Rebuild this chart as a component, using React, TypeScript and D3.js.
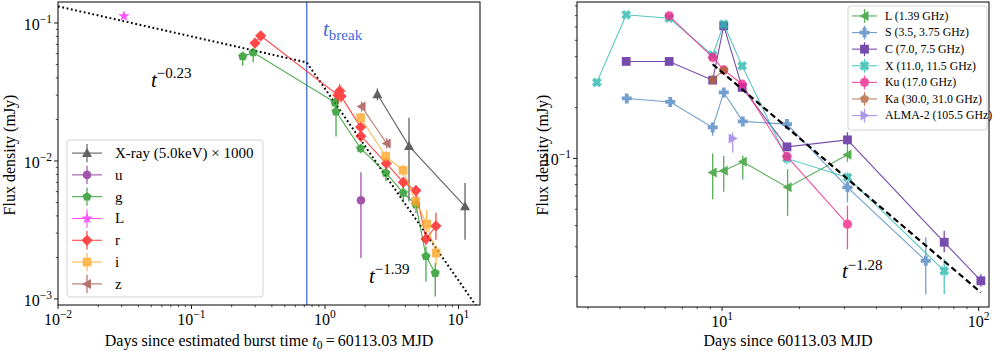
import React from 'react';
import * as d3 from 'd3';

// ---------------- Left panel data (days since t0, flux mJy) ----------------
const xrayT = [2.47, 4.26, 11.2];
const xrayF = [0.0305, 0.01282, 0.00469];
const xrayLo = [0.0275, 0.0051, 0.00269];
const xrayHi = [0.0335, 0.0206, 0.00693];

const uT = [1.86];
const uF = [0.00519];
const uLo = [0.00198];
const uHi = [0.0083];

const gT = [0.242, 0.29, 1.19, 1.21, 1.85, 2.86, 3.86, 4.8, 5.71, 6.7];
const gF = [0.0573, 0.0612, 0.0265, 0.0228, 0.01233, 0.0082, 0.00587, 0.00483, 0.00204, 0.00154];
const gLo = [0.049, 0.052, 0.0245, 0.01507, 0.0114, 0.00713, 0.005, 0.0042, 0.00134, 0.00104];
const gHi = [0.0612, 0.0647, 0.0285, 0.0255, 0.0133, 0.00897, 0.00662, 0.0055, 0.0024, 0.00182];

const LoptT = [0.0312];
const LoptF = [0.112];

const rT = [0.299, 0.33, 1.25, 1.29, 1.32, 1.85, 1.86, 2.88, 3.86, 4.8, 5.71, 6.78];
const rF = [0.0715, 0.0808, 0.03, 0.0322, 0.0295, 0.0176, 0.01514, 0.0096, 0.00701, 0.0061, 0.00272, 0.00338];
const rLo = [0.0665, 0.076, 0.026, 0.028, 0.0265, 0.016, 0.0138, 0.0087, 0.0064, 0.0055, 0.00245, 0.00269];
const rHi = [0.0765, 0.086, 0.034, 0.036, 0.0325, 0.0192, 0.0165, 0.0105, 0.0077, 0.0067, 0.003, 0.00422];

const iT = [1.85, 2.85, 3.84, 4.78, 5.78, 6.8];
const iF = [0.0206, 0.01083, 0.00857, 0.0051, 0.00349, 0.00215];
const iLo = [0.019, 0.0099, 0.0078, 0.00432, 0.003, 0.00175];
const iHi = [0.0222, 0.0118, 0.0094, 0.00555, 0.00444, 0.00245];

const zT = [1.88, 2.9];
const zF = [0.0248, 0.0134];
const zLo = [0.0228, 0.0123];
const zHi = [0.027, 0.0146];

// broken power-law fit
const fitLT = [0.01, 0.73, 14.5];
const fitLF = [0.132, 0.0518, 0.000813];
const tBreak = 0.73;

// ---------------- Right panel data (radio) ----------------
const radLT = [9.19, 10.15, 12.04, 18.0, 30.8];
const radLF = [0.0826, 0.0845, 0.0955, 0.0674, 0.105];
const radLLo = [0.0574, 0.0634, 0.075, 0.0457, 0.0955];
const radLHi = [0.107, 0.1036, 0.104, 0.0864, 0.119];

const radST = [4.25, 6.28, 9.19, 10.15, 12.04, 17.9, 30.8, 62.2];
const radSF = [0.2265, 0.216, 0.1526, 0.2458, 0.1656, 0.1596, 0.0674, 0.02478];
const radSLo = [0.212, 0.207, 0.136, 0.236, 0.156, 0.152, 0.0549, 0.0157];
const radSHi = [0.235, 0.225, 0.163, 0.255, 0.175, 0.167, 0.0737, 0.0342];

const radCT = [4.23, 6.22, 9.19, 10.15, 11.97, 17.9, 30.8, 73.4, 102];
const radCF = [0.375, 0.375, 0.2906, 0.609, 0.263, 0.117, 0.1288, 0.0319, 0.01888];
const radCLo = [0.36, 0.36, 0.28, 0.59, 0.255, 0.112, 0.119, 0.0278, 0.0174];
const radCHi = [0.39, 0.39, 0.3, 0.63, 0.27, 0.122, 0.143, 0.0373, 0.0207];

const radXT = [3.25, 4.23, 6.22, 9.19, 10.15, 11.97, 17.9, 30.8, 73.4];
const radXF = [0.282, 0.708, 0.676, 0.408, 0.623, 0.353, 0.1, 0.0772, 0.0216];
const radXLo = [0.27, 0.685, 0.655, 0.39, 0.6, 0.335, 0.092, 0.0745, 0.0157];
const radXHi = [0.295, 0.73, 0.7, 0.425, 0.65, 0.37, 0.108, 0.0826, 0.0254];

const radKuT = [6.22, 9.19, 10.15, 11.97, 17.9, 30.8];
const radKuF = [0.698, 0.396, 0.334, 0.275, 0.1027, 0.0408];
const radKuLo = [0.675, 0.38, 0.32, 0.265, 0.0975, 0.029];
const radKuHi = [0.72, 0.41, 0.345, 0.285, 0.108, 0.0525];

const radKaT = [9.19, 10.15];
const radKaF = [0.2906, 0.333];
const radKaLo = [0.282, 0.323];
const radKaHi = [0.3, 0.343];

const radAT = [11.0];
const radAF = [0.1313];
const radALo = [0.1085];
const radAHi = [0.1425];

const fitRT = [9.19, 102];
const fitRF = [0.361, 0.0161];

// ---------------- helpers ----------------
type Series = {
  label: string;
  color: string;
  marker: string;
  t: number[];
  f: number[];
  lo?: number[];
  hi?: number[];
  r: number;
};

const leftSeries: Series[] = [
  { label: 'X-ray (5.0keV) × 1000', color: '#3a3a3a', marker: '^', t: xrayT, f: xrayF, lo: xrayLo, hi: xrayHi, r: 5 },
  { label: 'u', color: '#8a2a96', marker: 'o', t: uT, f: uF, lo: uLo, hi: uHi, r: 4.3 },
  { label: 'g', color: '#1f951f', marker: 'p', t: gT, f: gF, lo: gLo, hi: gHi, r: 4.8 },
  { label: 'L', color: '#ff2cff', marker: '*', t: LoptT, f: LoptF, r: 6 },
  { label: 'r', color: '#ff1a1a', marker: 'D', t: rT, f: rF, lo: rLo, hi: rHi, r: 5.6 },
  { label: 'i', color: '#ffa726', marker: 's', t: iT, f: iF, lo: iLo, hi: iHi, r: 4.3 },
  { label: 'z', color: '#a4504c', marker: '<', t: zT, f: zF, lo: zLo, hi: zHi, r: 5 },
];

const rightSeries: Series[] = [
  { label: 'L (1.39 GHz)', color: '#2e9a2e', marker: '<', t: radLT, f: radLF, lo: radLLo, hi: radLHi, r: 5 },
  { label: 'S (3.5, 3.75 GHz)', color: '#4f88c2', marker: 'P', t: radST, f: radSF, lo: radSLo, hi: radSHi, r: 5 },
  { label: 'C (7.0, 7.5 GHz)', color: '#57209a', marker: 's', t: radCT, f: radCF, lo: radCLo, hi: radCHi, r: 4.4 },
  { label: 'X (11.0, 11.5 GHz)', color: '#2bbab0', marker: 'X', t: radXT, f: radXF, lo: radXLo, hi: radXHi, r: 5 },
  { label: 'Ku (17.0 GHz)', color: '#f2268f', marker: 'o', t: radKuT, f: radKuF, lo: radKuLo, hi: radKuHi, r: 4.6 },
  { label: 'Ka (30.0, 31.0 GHz)', color: '#b4653a', marker: 'p', t: radKaT, f: radKaF, lo: radKaLo, hi: radKaHi, r: 4.8 },
  { label: 'ALMA-2 (105.5 GHz)', color: '#9a7de6', marker: '>', t: radAT, f: radAF, lo: radALo, hi: radAHi, r: 5 },
];

function poly(pts: [number, number][]): string {
  return 'M' + pts.map((p) => p[0].toFixed(2) + ',' + p[1].toFixed(2)).join('L') + 'Z';
}

function markerPath(type: string, r: number): string {
  switch (type) {
    case 'o':
      return `M${r},0A${r},${r} 0 1,1 ${-r},0A${r},${r} 0 1,1 ${r},0Z`;
    case '^':
      return poly([[0, -r], [r, r * 0.8], [-r, r * 0.8]]);
    case '<':
      return poly([[-r, 0], [r * 0.8, -r], [r * 0.8, r]]);
    case '>':
      return poly([[r, 0], [-r * 0.8, -r], [-r * 0.8, r]]);
    case 'D':
      return poly([[0, -r], [r, 0], [0, r], [-r, 0]]);
    case 's':
      return poly([[-r, -r], [r, -r], [r, r], [-r, r]]);
    case 'p': {
      const pts: [number, number][] = [];
      for (let k = 0; k < 5; k++) {
        const a = -Math.PI / 2 + (k * 2 * Math.PI) / 5;
        pts.push([r * Math.cos(a), r * Math.sin(a)]);
      }
      return poly(pts);
    }
    case '*': {
      const pts: [number, number][] = [];
      for (let k = 0; k < 10; k++) {
        const a = -Math.PI / 2 + (k * Math.PI) / 5;
        const rr = k % 2 === 0 ? r : r * 0.4;
        pts.push([rr * Math.cos(a), rr * Math.sin(a)]);
      }
      return poly(pts);
    }
    case 'P':
    case 'X': {
      const w = r * 0.38;
      const base: [number, number][] = [
        [-w, -r], [w, -r], [w, -w], [r, -w], [r, w], [w, w], [w, r], [-w, r], [-w, w], [-r, w], [-r, -w], [-w, -w],
      ];
      if (type === 'P') return poly(base);
      const c = Math.cos(Math.PI / 4), s = Math.sin(Math.PI / 4);
      return poly(base.map(([x, y]) => [x * c - y * s, x * s + y * c] as [number, number]));
    }
  }
  return '';
}

const FONT = "'Liberation Serif','DejaVu Serif','Times New Roman',serif";

type PanelProps = {
  id: string;
  left: number; right: number; top: number; bottom: number;
  xDomain: [number, number]; yDomain: [number, number];
  series: Series[];
  children?: (x: d3.ScaleLogarithmic<number, number>, y: d3.ScaleLogarithmic<number, number>) => React.ReactNode;
  after?: (x: d3.ScaleLogarithmic<number, number>, y: d3.ScaleLogarithmic<number, number>) => React.ReactNode;
};

function supLabel(e: number) {
  return e < 0 ? '\u2212' + Math.abs(e) : String(e);
}

function Panel(p: PanelProps) {
  const x = d3.scaleLog().domain(p.xDomain).range([p.left, p.right]);
  const y = d3.scaleLog().domain(p.yDomain).range([p.bottom, p.top]);
  const xt = x.ticks();
  const yt = y.ticks();
  const isMajor = (v: number) => Math.abs(Math.log10(v) - Math.round(Math.log10(v))) < 1e-6;
  const line = d3.line<[number, number]>().x((d) => x(d[0])).y((d) => y(d[1]));
  return (
    <g>
      <defs>
        <clipPath id={p.id}>
          <rect x={p.left} y={p.top} width={p.right - p.left} height={p.bottom - p.top} />
        </clipPath>
      </defs>
      <g clipPath={`url(#${p.id})`}>
        {p.children && p.children(x, y)}
        {p.series.map((s, si) => {
          const pts = s.t.map((t, i) => [t, s.f[i]] as [number, number]);
          return (
            <g key={si} opacity={0.8}>
              {s.lo && s.hi && s.t.map((t, i) => (
                <line key={'e' + i} x1={x(t)} x2={x(t)} y1={y(s.lo![i])} y2={y(s.hi![i])} stroke={s.color} strokeWidth={1.3} />
              ))}
              {pts.length > 1 && <path d={line(pts) || ''} fill="none" stroke={s.color} strokeWidth={1.1} />}
              {pts.map((d, i) => (
                <path key={'m' + i} d={markerPath(s.marker, s.r)} transform={`translate(${x(d[0])},${y(d[1])})`} fill={s.color} />
              ))}
            </g>
          );
        })}
        {p.after && p.after(x, y)}
      </g>
      <rect x={p.left} y={p.top} width={p.right - p.left} height={p.bottom - p.top} fill="none" stroke="#000" strokeWidth={1} />
      {xt.map((v, i) => {
        const maj = isMajor(v);
        const px = x(v);
        return (
          <g key={'xt' + i}>
            <line x1={px} x2={px} y1={p.bottom} y2={p.bottom + (maj ? 4 : 2.2)} stroke="#000" strokeWidth={maj ? 0.9 : 0.7} />
            {maj && (
              <text x={px} y={p.bottom + 20} textAnchor="middle" fontFamily={FONT} fontSize={16}>
                10<tspan dy={-7} fontSize={11.5}>{supLabel(Math.round(Math.log10(v)))}</tspan>
              </text>
            )}
          </g>
        );
      })}
      {yt.map((v, i) => {
        const maj = isMajor(v);
        const py = y(v);
        return (
          <g key={'yt' + i}>
            <line x1={p.left} x2={p.left - (maj ? 4 : 2.2)} y1={py} y2={py} stroke="#000" strokeWidth={maj ? 0.9 : 0.7} />
            {maj && (
              <text x={p.left - 6} y={py + 7} textAnchor="end" fontFamily={FONT} fontSize={16}>
                10<tspan dy={-7} fontSize={11.5}>{supLabel(Math.round(Math.log10(v)))}</tspan>
              </text>
            )}
          </g>
        );
      })}
    </g>
  );
}

function Legend({ series, x, y, w, h, step, fs, lineX0, lineX1, textX }: {
  series: Series[]; x: number; y: number; w: number; h: number; step: number; fs: number; lineX0: number; lineX1: number; textX: number;
}) {
  const mx = (lineX0 + lineX1) / 2;
  return (
    <g>
      <rect x={x} y={y} width={w} height={h} rx={3} fill="#fff" fillOpacity={0.85} stroke="#d4d4d4" strokeWidth={1} />
      {series.map((s, i) => {
        const cy = y + step * 0.6 + i * step;
        return (
          <g key={i}>
            <g opacity={0.8}>
              <line x1={lineX0} x2={lineX1} y1={cy} y2={cy} stroke={s.color} strokeWidth={1.1} />
              <line x1={mx} x2={mx} y1={cy - step * 0.42} y2={cy + step * 0.42} stroke={s.color} strokeWidth={1.2} />
              <path d={markerPath(s.marker, s.r)} transform={`translate(${mx},${cy})`} fill={s.color} />
            </g>
            <text x={textX} y={cy + fs * 0.33} fontFamily={FONT} fontSize={fs}>{s.label}</text>
          </g>
        );
      })}
    </g>
  );
}

export default function App() {
  const L = { left: 58, right: 480, top: 2, bottom: 305 };
  const R = { left: 577, right: 989, top: 2, bottom: 307 };
  return (
    <svg width={1000} height={351} style={{ position: 'absolute', left: 0, top: 0, background: '#fff' }} fontFamily={FONT}>
      <rect x={0} y={0} width={1000} height={351} fill="#fff" />
      <Panel
        id="clipL"
        {...L}
        xDomain={[0.01, 14.5]}
        yDomain={[0.000904, 0.142]}
        series={leftSeries}
        children={(x, y) => (
          <g>
            <line x1={x(tBreak)} x2={x(tBreak)} y1={L.top} y2={L.bottom} stroke="#4169e1" strokeWidth={1.4} opacity={0.9} />
            <path
              d={d3.line<number>().x((_, i) => x(fitLT[i])).y((d) => y(d))(fitLF) || ''}
              fill="none" stroke="#000" strokeWidth={2} strokeDasharray="1.8,2.6"
            />
          </g>
        )}
      />
      <Legend series={leftSeries} x={67} y={140} w={196} h={157} step={21.8} fs={15} lineX0={72} lineX1={102} textX={115} />
      <text x={151} y={87} fontFamily={FONT} fontSize={21} fontStyle="italic">t<tspan fontStyle="normal" fontSize={15} dy={-9}>{'\u22120.23'}</tspan></text>
      <text x={369} y={283} fontFamily={FONT} fontSize={21} fontStyle="italic">t<tspan fontStyle="normal" fontSize={15} dy={-9}>{'\u22121.39'}</tspan></text>
      <text x={323} y={36} fontFamily={FONT} fontSize={21} fontStyle="italic" fill="#4169e1">t<tspan fontStyle="normal" fontSize={15} dy={4}>break</tspan></text>
      <text transform="translate(15,155) rotate(-90)" textAnchor="middle" fontFamily={FONT} fontSize={16}>Flux density (mJy)</text>
      <text x={269} y={346} textAnchor="middle" fontFamily={FONT} fontSize={16}>
        Days since estimated burst time <tspan fontStyle="italic">t</tspan><tspan fontSize={11.5} dy={2.5}>0</tspan><tspan dy={-2.5}>{'\u2009=\u200960113.03 MJD'}</tspan>
      </text>

      <Panel
        id="clipR"
        {...R}
        xDomain={[2.72, 109.7]}
        yDomain={[0.0132, 0.843]}
        series={rightSeries}
        after={(x, y) => (
          <path
            d={d3.line<number>().x((_, i) => x(fitRT[i])).y((d) => y(d))(fitRF) || ''}
            fill="none" stroke="#000" strokeWidth={2.2} strokeDasharray="6,3.5"
          />
        )}
      />
      <Legend series={rightSeries} x={848} y={6} w={139} h={124} step={16.6} fs={11.8} lineX0={852} lineX1={877} textX={885} />
      <text x={842} y={278} fontFamily={FONT} fontSize={21} fontStyle="italic">t<tspan fontStyle="normal" fontSize={15} dy={-8}>{'\u22121.28'}</tspan></text>
      <text transform="translate(548,155) rotate(-90)" textAnchor="middle" fontFamily={FONT} fontSize={16}>Flux density (mJy)</text>
      <text x={788} y={346} textAnchor="middle" fontFamily={FONT} fontSize={16}>Days since 60113.03 MJD</text>
    </svg>
  );
}
